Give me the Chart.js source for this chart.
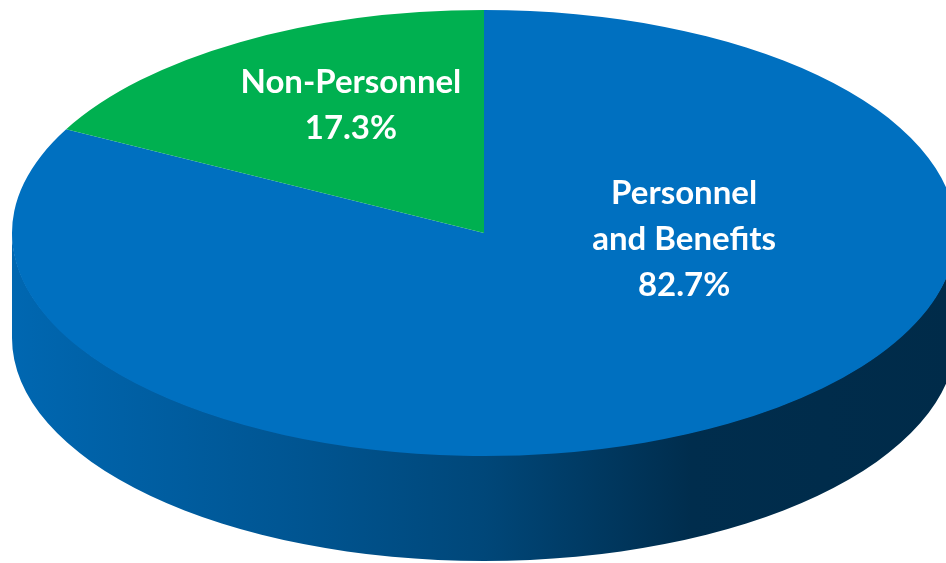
<!DOCTYPE html>
<html>
<head>
<meta charset="utf-8">
<script src="https://cdn.jsdelivr.net/npm/chart.js@4/dist/chart.umd.min.js"></script>
<style>
  html, body { margin: 0; padding: 0; background: #ffffff; }
  #wrap { width: 946px; height: 563px; }
</style>
</head>
<body>
<div id="wrap"><canvas id="c" width="946" height="563"></canvas></div>
<script>
// ---- data ----
const categories = ["Personnel and Benefits", "Non-Personnel"];
const labelLines = [["Personnel", "and Benefits"], ["Non-Personnel"]];
const shares = [82.7, 17.3];
const sliceColors = ["#0070C0", "#00B050"];

// ---- 3D look (style) ----
const pie3d = {
  cx: 484, cy: 233,      // ellipse centre on screen
  rx: 472, ry: 223,      // ellipse radii
  depth: 105,            // thickness of the side
  // label anchor offsets in ellipse units (rx, ry) from centre
  labelPos: [{ x: 0.424, y: 0.03 }, { x: -0.282, y: -0.574 }],
  lineHeight: 46,
  font: "bold 33px Lato, 'Open Sans', sans-serif"
};

function shade(hex, f) {
  const n = parseInt(hex.slice(1), 16);
  const r = Math.round(((n >> 16) & 255) * f);
  const g = Math.round(((n >> 8) & 255) * f);
  const b = Math.round((n & 255) * f);
  return `rgb(${r},${g},${b})`;
}

const TWO_PI = Math.PI * 2;

const pie3dPlugin = {
  id: 'pie3d',
  beforeDatasetsDraw(chart) {
    const ctx = chart.ctx;
    const meta = chart.getDatasetMeta(0);
    const { cx, cy, rx, ry, depth } = pie3d;
    // side band: only the front half (angles 0..PI) is visible
    meta.data.forEach((arc, i) => {
      let a0 = arc.startAngle, a1 = arc.endAngle;
      while (a0 < 0) { a0 += TWO_PI; a1 += TWO_PI; }
      while (a0 >= TWO_PI) { a0 -= TWO_PI; a1 -= TWO_PI; }
      const ranges = [[a0, a1], [a0 - TWO_PI, a1 - TWO_PI], [a0 + TWO_PI, a1 + TWO_PI]];
      ranges.forEach(([s, e]) => {
        const s2 = Math.max(s, 0), e2 = Math.min(e, Math.PI);
        if (e2 <= s2) return;
        const col = chart.data.datasets[0].backgroundColor[i];
        const g = ctx.createLinearGradient(cx - rx, 0, cx + rx, 0);
        g.addColorStop(0, shade(col, 0.92));
        g.addColorStop(0.3, shade(col, 0.76));
        g.addColorStop(0.5, shade(col, 0.63));
        g.addColorStop(0.72, shade(col, 0.40));
        g.addColorStop(1, shade(col, 0.38));
        ctx.save();
        ctx.beginPath();
        ctx.ellipse(cx, cy - 1, rx, ry, 0, s2, e2, false);
        ctx.lineTo(cx + rx * Math.cos(e2), cy + depth + ry * Math.sin(e2));
        ctx.ellipse(cx, cy + depth, rx, ry, 0, e2, s2, true);
        ctx.closePath();
        ctx.fillStyle = g;
        ctx.fill();
        ctx.restore();
      });
    });
    // map the library's circle onto the top ellipse
    const a = meta.data[0];
    const R = a.outerRadius;
    ctx.save();
    ctx.translate(cx, cy);
    ctx.scale(rx / R, ry / R);
    ctx.translate(-a.x, -a.y);
  },
  afterDatasetsDraw(chart) {
    const ctx = chart.ctx;
    ctx.restore();
    const { cx, cy, rx, ry, labelPos, lineHeight, font } = pie3d;
    const vals = chart.data.datasets[0].data;
    ctx.save();
    ctx.fillStyle = '#ffffff';
    ctx.font = font;
    ctx.textAlign = 'center';
    ctx.textBaseline = 'middle';
    vals.forEach((v, i) => {
      const lines = labelLines[i].concat([v.toFixed(1) + '%']);
      const x = cx + labelPos[i].x * rx;
      const y = cy + labelPos[i].y * ry;
      const top = y - (lines.length - 1) * lineHeight / 2;
      lines.forEach((t, k) => ctx.fillText(t, x, top + k * lineHeight));
    });
    ctx.restore();
  }
};

new Chart(document.getElementById('c'), {
  type: 'pie',
  data: {
    labels: categories,
    datasets: [{
      data: shares,
      backgroundColor: sliceColors,
      borderWidth: 0,
      clip: false
    }]
  },
  options: {
    responsive: false,
    animation: false,
    rotation: 0,
    layout: { padding: 0 },
    events: [],
    plugins: {
      legend: { display: false },
      tooltip: { enabled: false },
      title: { display: false }
    }
  },
  plugins: [pie3dPlugin]
});
</script>
</body>
</html>
